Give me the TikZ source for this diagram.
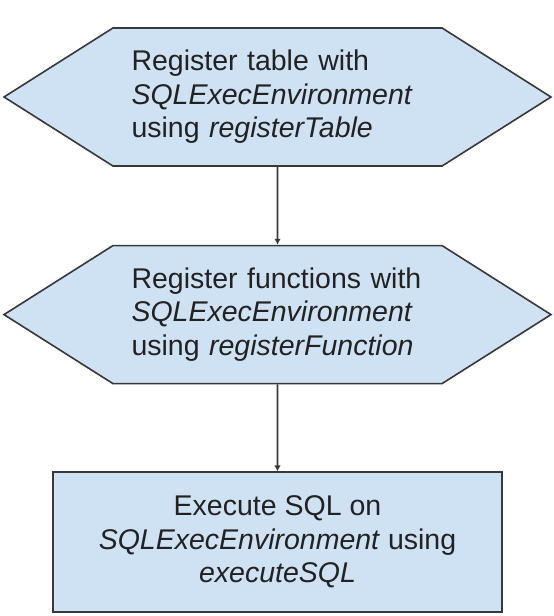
\documentclass[tikz,border=0pt]{standalone}
\usepackage{fontspec}
\setmainfont{Liberation Sans}
\usetikzlibrary{shapes.symbols,positioning,arrows.meta}
\definecolor{boxblue}{HTML}{CFE2F3}
\definecolor{edgegray}{HTML}{383838}
\definecolor{textgray}{HTML}{222222}
\tikzset{
  hexstep/.style={signal, signal to=west and east, signal pointer angle=64.7,
    draw=edgegray, line width=1.6pt, fill=boxblue, text=textgray,
    minimum width=547pt, minimum height=138pt, inner sep=0pt,
    text width=292pt, align=left, font=\fontsize{28.5}{33.5}\selectfont},
  boxstep/.style={rectangle, draw=edgegray, line width=1.6pt, fill=boxblue,
    text=textgray, minimum width=449pt, minimum height=139.5pt, inner sep=0pt,
    align=center, font=\fontsize{28.5}{33.5}\selectfont},
  flow/.style={-{Latex[length=6pt,width=6.5pt]}, draw=edgegray, line width=1.6pt}
}
\begin{document}
\begin{tikzpicture}[node distance=78pt]
\useasboundingbox (0,0) rectangle (554pt,-616pt);
\node[hexstep] (regtable) at (277.5pt,-97pt)
  {Register table with\\ \textit{SQLExecEnvironment}\\ using \textit{registerTable}};
\node[hexstep, below=of regtable] (regfunc)
  {Register functions with\\ \textit{SQLExecEnvironment}\\ using \textit{registerFunction}};
\node[boxstep, below=87pt of regfunc] (execsql)
  {Execute SQL on\\ \textit{SQLExecEnvironment} using\\ \textit{executeSQL}};
\draw[flow] (regtable) -- (regfunc);
\draw[flow] (regfunc) -- (execsql);
\end{tikzpicture}
\end{document}
